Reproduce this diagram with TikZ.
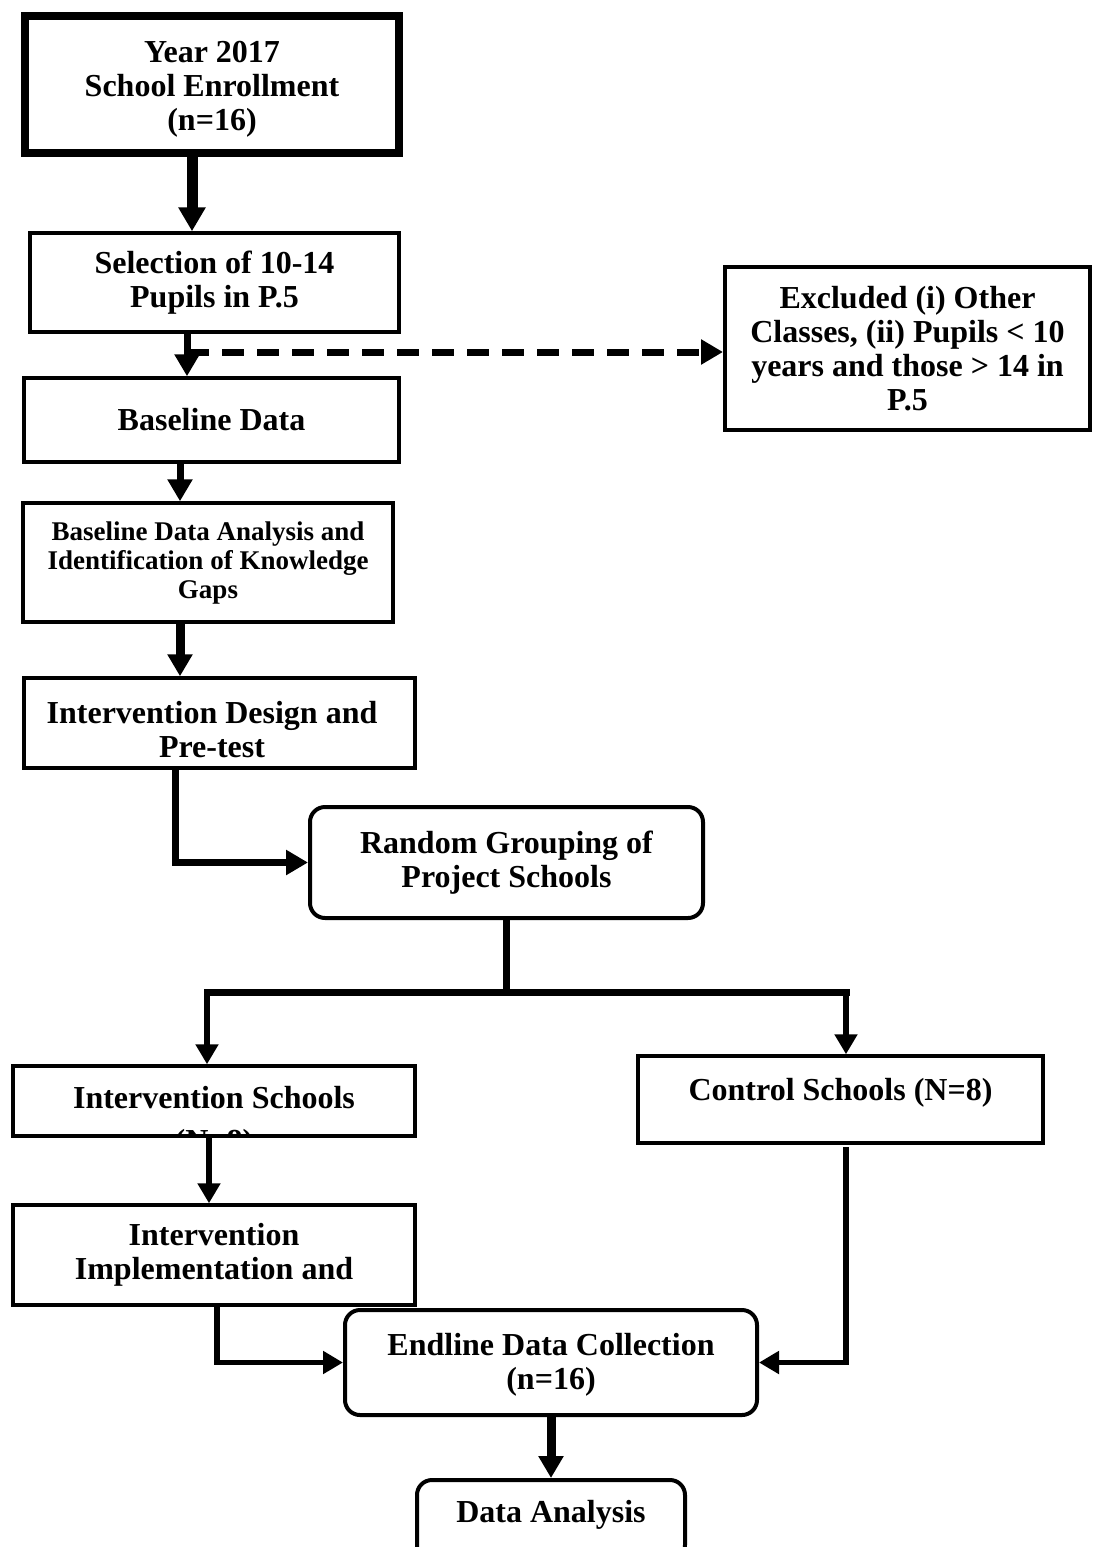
\documentclass[tikz,border=0pt]{standalone}
\usepackage{fontspec}
\setmainfont{Liberation Serif}
\usetikzlibrary{arrows.meta}
\newcommand\fbig{\fontsize{32}{34}\selectfont\bfseries}
\newcommand\fsml{\fontsize{27}{29}\selectfont\bfseries}
\begin{document}
\begin{tikzpicture}[x=1pt,y=-1pt,
  box/.style={draw, line width=3.5pt, rectangle, inner sep=0pt, align=center, font=\fbig},
  rbox/.style={box, rounded corners=15pt, line width=4pt},
  txt/.style={inner sep=0pt, align=center, font=\fbig},
  arr/.style={line width=7pt, -{Triangle[width=24pt,length=22pt]}},
  ln/.style={line width=7pt},
]
\useasboundingbox[fill=white] (0,0) rectangle (1093,1547);

% boxes
\node[box, line width=8pt, minimum width=374pt, minimum height=137pt] (top) at (212,84.5) {};
\node[txt] (toptxt) at (212,89) {Year 2017\\School Enrollment\\(n=16)};
\node[box, minimum width=369pt, minimum height=99pt] (sel) at (214.5,282.5)
  {Selection of 10-14\\Pupils in P.5};
\node[box, line width=4pt, minimum width=365pt, minimum height=163pt] (excl) at (907.5,348.5)
  {Excluded (i) Other\\Classes, (ii) Pupils < 10\\years and those > 14 in\\P.5};
\node[box, minimum width=375pt, minimum height=84pt] (base) at (211.5,420)
  {Baseline Data};
\node[box, minimum width=370pt, minimum height=119pt, font=\fsml] (bda) at (208,562.5)
  {Baseline Data Analysis and\\Identification of Knowledge\\Gaps};
\node[box, minimum width=391pt, minimum height=90pt] (design) at (219.5,723) {};
\node[txt] (designtxt) at (212,730) {Intervention Design and\\Pre-test};
\node[rbox, minimum width=393pt, minimum height=111pt] (random) at (506.5,862.5)
  {Random Grouping of\\Project Schools};
\node[box, minimum width=402pt, minimum height=70pt] (inter) at (214,1101) {};
\begin{scope}
  \clip (inter.north west) rectangle ([xshift=-2pt,yshift=2pt]inter.south east);
  \node[txt, anchor=base] (intertxt) at (214,1108) {Intervention Schools};
  \node[txt, anchor=base] (intern) at (214,1151) {(N=8)};
\end{scope}
\node[box, minimum width=405pt, minimum height=87pt] (ctrl) at (840.5,1099.5) {};
\node[txt, anchor=base] (ctrltxt) at (840.5,1100) {Control Schools (N=8)};
\node[box, minimum width=402pt, minimum height=100pt] (impl) at (214,1255)
  {Intervention\\Implementation and};
\node[rbox, minimum width=412pt, minimum height=105pt] (endl) at (551,1362.5) {};
\node[txt] (endltxt) at (551,1365) {Endline Data Collection\\(n=16)};
\node[rbox, minimum width=268pt, minimum height=80pt] (da) at (551,1520) {};
\node[txt] (datxt) at (551,1515) {Data Analysis};

% helper coordinates
\coordinate (c1) at (192,0);
\coordinate (c2) at (187,352);
\coordinate (c3) at (180,0);
\coordinate (c4) at (175,0);
\coordinate (sL) at (207,992);
\coordinate (sR) at (846,992);
\coordinate (sM) at (506.5,992);
\coordinate (c5) at (209,0);
\coordinate (c6) at (217,0);
\coordinate (c7) at (846,1147);

% connectors
\draw[line width=11pt, -{Triangle[width=26pt,length=24pt]}] (top.south -| c1) -- (sel.north -| c1);
\draw[arr] (sel.south -| c2) -- (base.north -| c2);
\draw[line width=7pt, dash pattern=on 22pt off 13pt, -{Triangle[width=24pt,length=22pt]}] (c2) -- (excl.west |- c2);
\draw[arr] (base.south -| c3) -- (bda.north -| c3);
\draw[line width=9pt, -{Triangle[width=24pt,length=22pt]}] (bda.south -| c3) -- (design.north -| c3);
\draw[arr] (design.south -| c4) |- (random.west);
\draw[ln] (random.south) -- (sM);
\draw[ln, line cap=rect] (sL) -- (sR);
\draw[line width=5.5pt, -{Triangle[width=22pt,length=20pt]}] (sL) -- (inter.north -| sL);
\draw[line width=5.5pt, -{Triangle[width=22pt,length=20pt]}] (sR) -- (ctrl.north -| sR);
\draw[line width=5.5pt, -{Triangle[width=22pt,length=20pt]}] (inter.south -| c5) -- (impl.north -| c5);
\draw[line width=5.5pt, -{Triangle[width=22pt,length=20pt]}] (impl.south -| c6) |- (endl.west);
\draw[line width=5.5pt, -{Triangle[width=22pt,length=20pt]}] (c7) |- (endl.east);
\draw[line width=9pt, -{Triangle[width=24pt,length=22pt]}] (endl.south) -- (da.north);
\end{tikzpicture}
\end{document}
